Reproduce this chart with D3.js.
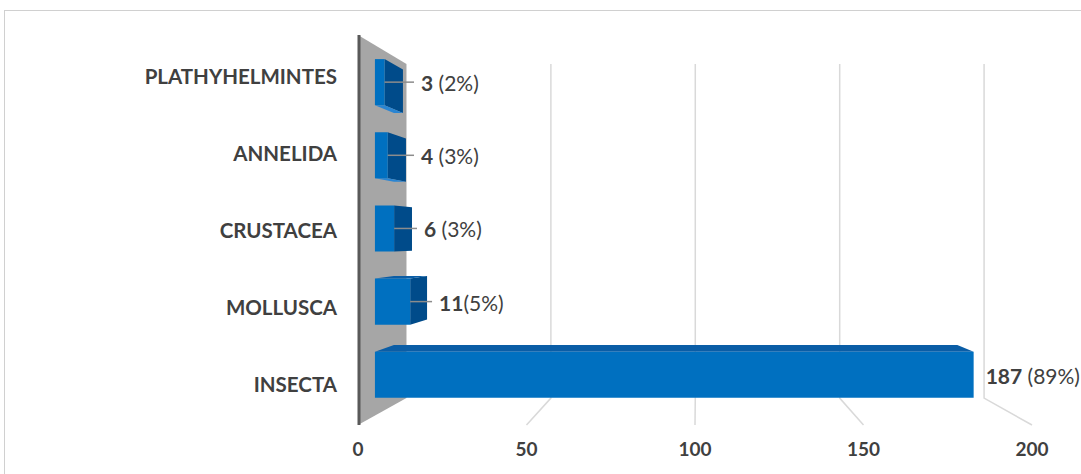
<!DOCTYPE html>
<html>
<head>
<meta charset="utf-8">
<script src="https://cdn.jsdelivr.net/npm/d3@7"></script>
<style>
  body { margin: 0; background: #fff; }
  text { font-family: Lato, "Open Sans", sans-serif; fill: #404040; white-space: pre; }
</style>
</head>
<body>
<div id="chart"></div>
<script>
// Data
var categories = ["PLATHYHELMINTES", "ANNELIDA", "CRUSTACEA", "MOLLUSCA", "INSECTA"];
var counts = [3, 4, 6, 11, 187];
var pctLabels = [" (2%)", " (3%)", " (3%)", "(5%)", " (89%)"];
var xTicks = [0, 50, 100, 150, 200];

var svgWidth = 1081;
var svgHeight = 474;

var svg = d3.select("#chart")
  .append("svg")
  .attr("width", svgWidth)
  .attr("height", svgHeight);

// chart border
svg.append("rect")
  .attr("x", 4.5).attr("y", 10.5)
  .attr("width", 1200).attr("height", 600)
  .attr("fill", "none")
  .attr("stroke", "#d0d0d0");

// front plane scales
var xScale = d3.scaleLinear().domain([0, 200]).range([358, 1032]);
var yScale = d3.scaleBand()
  .domain(categories)
  .range([35.5, 420.5])
  .paddingInner(0.37)
  .paddingOuter(0.185);

var plotTop = 35, plotBottom = 425;

// perspective: vanishing point and depth
var vp = [697, 237];
var depthK = 0.1669;
function project(v, y, z) {
  var k = 1 / (1 + depthK * z);
  return [vp[0] + (xScale(v) - vp[0]) * k, vp[1] + (y - vp[1]) * k];
}
var zFront = 0.315, zBack = 0.71;

function poly(pts) {
  return "M" + pts.map(p => p[0] + "," + p[1]).join("L") + "Z";
}

// back wall gridlines and floor lines
var gridGroup = svg.append("g");
xTicks.filter(d => d > 0).forEach(d => {
  var a = project(d, plotTop, 1), b = project(d, plotBottom, 1), c = project(d, plotBottom, 0);
  gridGroup.append("path")
    .attr("d", "M" + a + "L" + b + "L" + c)
    .attr("fill", "none")
    .attr("stroke", "#d9d9d9")
    .attr("stroke-width", 1.5);
});

// side wall
svg.append("path")
  .attr("d", poly([project(0, plotTop, 0), project(0, plotTop, 1), project(0, plotBottom, 1), project(0, plotBottom, 0)]))
  .attr("fill", "#a6a6a6");

svg.append("line")
  .attr("x1", xScale(0) + 1).attr("x2", xScale(0) + 1)
  .attr("y1", plotTop).attr("y2", plotBottom)
  .attr("stroke", "#595959")
  .attr("stroke-width", 3);

// bars (3d boxes)
var barGroup = svg.append("g");
categories.forEach((cat, i) => {
  var v = counts[i];
  var yT = yScale(cat), yB = yScale(cat) + yScale.bandwidth();
  if (xScale(v) < vp[0]) {
    barGroup.append("path")
      .attr("d", poly([project(v, yT, zFront), project(v, yT, zBack), project(v, yB, zBack), project(v, yB, zFront)]))
      .attr("fill", "#004b8a");
  }
  if (yT > vp[1]) {
    barGroup.append("path")
      .attr("d", poly([project(0, yT, zFront), project(v, yT, zFront), project(v, yT, zBack), project(0, yT, zBack)]))
      .attr("fill", "#0a5da6");
  }
  if (yB < vp[1]) {
    barGroup.append("path")
      .attr("d", poly([project(0, yB, zFront), project(v, yB, zFront), project(v, yB, zBack), project(0, yB, zBack)]))
      .attr("fill", "#2a85d2");
  }
  barGroup.append("path")
    .attr("d", poly([project(0, yT, zFront), project(v, yT, zFront), project(v, yB, zFront), project(0, yB, zFront)]))
    .attr("fill", "#0070c0");
});

// value labels with leader lines
var labelGroup = svg.append("g");
categories.forEach((cat, i) => {
  var v = counts[i];
  var yMid = yScale(cat) + yScale.bandwidth() / 2;
  var front = project(v, yMid, zFront);
  var back = project(v, yMid, zBack);
  var labelX = Math.max(421, Math.max(front[0], back[0]) + 12);
  if (labelX - front[0] > 15) {
    labelGroup.append("line")
      .attr("x1", front[0]).attr("x2", labelX - 7)
      .attr("y1", front[1]).attr("y2", front[1])
      .attr("stroke", "#8c8c8c")
      .attr("stroke-width", 1.5);
  }
  var t = labelGroup.append("text")
    .attr("x", labelX)
    .attr("y", front[1])
    .attr("dominant-baseline", "central")
    .attr("font-size", "21px");
  t.append("tspan").attr("font-weight", "700").text(v);
  t.append("tspan").text(pctLabels[i]);
});

// category labels
svg.append("g").selectAll("text")
  .data(categories)
  .join("text")
  .attr("x", 337)
  .attr("y", d => yScale(d) + yScale.bandwidth() / 2 + 1.5)
  .attr("text-anchor", "end")
  .attr("dominant-baseline", "central")
  .attr("font-size", "20.5px")
  .attr("font-weight", "700")
  .text(d => d);

// x tick labels on front floor edge
svg.append("g").selectAll("text")
  .data(xTicks)
  .join("text")
  .attr("x", d => project(d, plotBottom, 0)[0])
  .attr("y", 456)
  .attr("text-anchor", "middle")
  .attr("font-size", "19px")
  .attr("font-weight", "700")
  .text(d => d);
</script>
</body>
</html>
